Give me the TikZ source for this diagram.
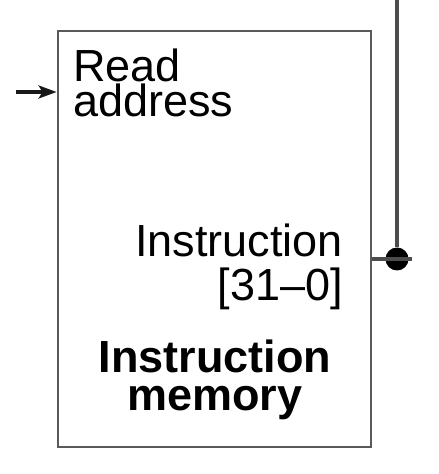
\documentclass[tikz,border=0pt]{standalone}
\usepackage{fontspec}
\setmainfont{Liberation Sans}
\usetikzlibrary{arrows.meta}

\begin{document}
\begin{tikzpicture}[x=0.5pt,y=-0.5pt,
    wire/.style={draw=black!70, line width=1.6pt},
    lbl/.style={inner sep=0pt, font=\fontsize{22.5}{17.5}\selectfont}]
                        \useasboundingbox (0,0) rectangle (438,474);
                        \node[draw=black!65, line width=1.4pt, minimum width=156.5pt, minimum height=208pt, inner sep=0pt] (mem) at (214.5,239) {};
                        \node[lbl, align=left, anchor=base west] (rd) at (73,117) {Read\\address};
                        \node[lbl, align=right, anchor=base east, font=\fontsize{22.5}{21.5}\selectfont] (ins) at (343,300) {Instruction\\{[31--0]}};
                        \node[lbl, align=center, anchor=base, font=\fontsize{22.5}{19}\selectfont\bfseries] (name) at (215,410) {Instruction\\memory};
                        \coordinate (in) at (16,92);
                        \coordinate (top) at (397,0);
                        \coordinate (out) at (412,259);
                        \node[fill=black, shape=circle, inner sep=0pt, minimum size=11.5pt] (dot) at (397,259) {};

                        \draw[wire, draw=black!90, -{Stealth[length=9pt,width=6.5pt,inset=2pt]}] (in) -- (mem.west |- in);
                        \path[wire] (mem.east |- dot) edge (out)
                        (top) edge (dot);
                    \end{tikzpicture}
\end{document}
